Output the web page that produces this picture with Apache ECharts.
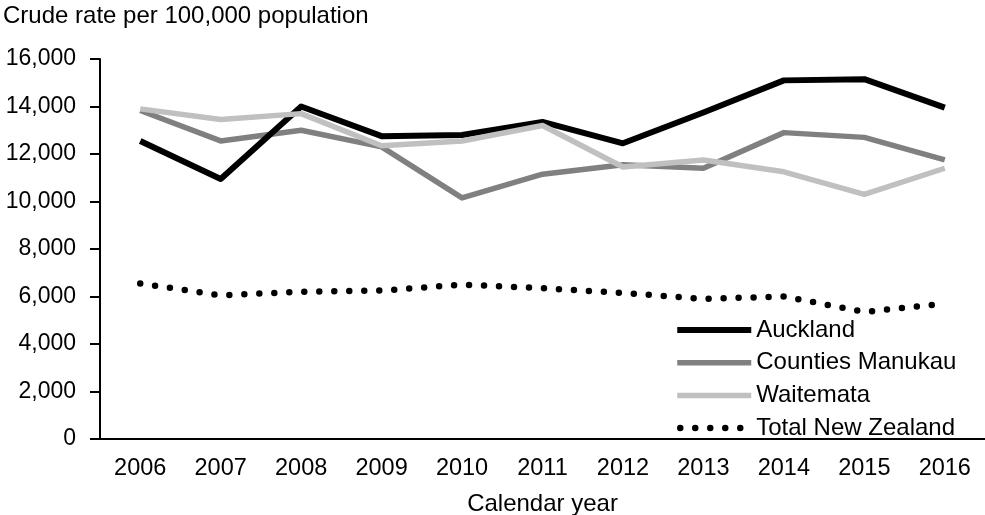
<!DOCTYPE html>
<html>
<head>
<meta charset="utf-8">
<script src="https://cdn.jsdelivr.net/npm/echarts@6/dist/echarts.min.js"></script>
<style>
  html, body { margin: 0; padding: 0; background: #ffffff; }
  #chart { width: 985px; height: 515px; }
</style>
</head>
<body>
<div id="chart"></div>
<script>
// Crude rate per 100,000 population, by calendar year
const years = ['2006', '2007', '2008', '2009', '2010', '2011', '2012', '2013', '2014', '2015', '2016'];
const auckland = [12550, 10950, 14000, 12750, 12800, 13350, 12450, 13750, 15100, 15150, 13950];
const countiesManukau = [13830, 12550, 13000, 12300, 10150, 11150, 11550, 11400, 12900, 12700, 11750];
const waitemata = [13900, 13450, 13700, 12350, 12550, 13200, 11450, 11750, 11250, 10300, 11400];
const totalNZ = [6550, 6050, 6200, 6250, 6500, 6350, 6150, 5900, 6000, 5350, 5700];

const FONT = 'Liberation Sans, Arial, sans-serif';

const styles = {
  'Auckland': { color: '#000000', width: 6 },
  'Counties Manukau': { color: '#808080', width: 5.5 },
  'Waitemata': { color: '#c0c0c0', width: 5.5 },
  'Total New Zealand': { color: '#000000', width: 6.5, type: [0, 15], cap: 'round' }
};

const chart = echarts.init(document.getElementById('chart'), null, { renderer: 'canvas' });

function lineSeries(name, data, z) {
  const st = styles[name];
  return {
    name: name,
    type: 'line',
    data: data,
    z: z,
    symbol: 'none',
    animation: false,
    lineStyle: Object.assign({ join: 'round' }, st),
    itemStyle: { color: st.color }
  };
}

chart.setOption({
  backgroundColor: '#ffffff',
  animation: false,
  title: {
    text: 'Crude rate per 100,000 population',
    left: -2,
    top: -1,
    textStyle: { fontFamily: FONT, fontSize: 24, fontWeight: 'normal', color: '#000000' }
  },
  grid: { left: 100, right: 0, top: 59, bottom: 76, containLabel: false, outerBoundsMode: 'none' },
  legend: {
    orient: 'vertical',
    left: 669,
    top: 313,
    itemWidth: 74,
    itemHeight: 14,
    itemGap: 8.7,
    itemStyle: { opacity: 0 },
    data: Object.keys(styles).map(n => ({
      name: n,
      lineStyle: Object.assign({}, styles[n], { dashOffset: -3 })
    })),
    textStyle: { fontFamily: FONT, fontSize: 24, color: '#000000' }
  },
  xAxis: {
    type: 'category',
    data: years,
    boundaryGap: true,
    name: 'Calendar year',
    nameLocation: 'middle',
    nameGap: 53,
    nameTextStyle: { fontFamily: FONT, fontSize: 24, color: '#000000' },
    axisLine: { show: true, lineStyle: { color: '#000000', width: 2 } },
    axisTick: { show: false },
    axisLabel: { fontFamily: FONT, fontSize: 23.5, color: '#000000', margin: 18 },
    splitLine: { show: false }
  },
  yAxis: {
    type: 'value',
    min: 0,
    max: 16000,
    interval: 2000,
    axisLine: { show: true, lineStyle: { color: '#000000', width: 2 } },
    axisTick: { show: true, inside: false, length: 10, lineStyle: { color: '#000000', width: 2 } },
    axisLabel: {
      fontFamily: FONT, fontSize: 23, color: '#000000', margin: 24,
      formatter: v => v.toLocaleString('en-US')
    },
    splitLine: { show: false }
  },
  series: [
    lineSeries('Auckland', auckland, 3),
    lineSeries('Counties Manukau', countiesManukau, 2),
    lineSeries('Waitemata', waitemata, 4),
    lineSeries('Total New Zealand', totalNZ, 1)
  ]
});
</script>
</body>
</html>
